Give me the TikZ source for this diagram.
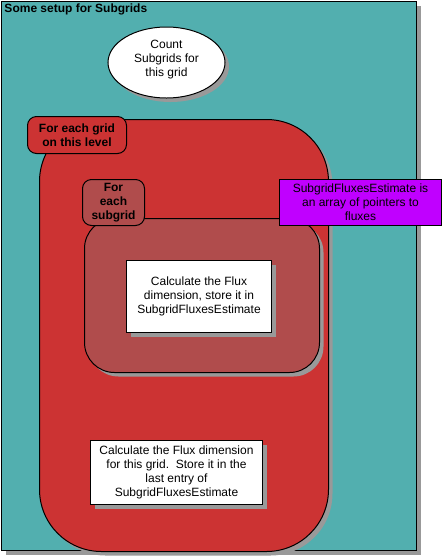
\documentclass[tikz,border=0pt]{standalone}
\usepackage{fontspec}
\setmainfont{Liberation Sans}
\usetikzlibrary{shadows,shapes.geometric}
\definecolor{tealbg}{RGB}{82,175,175}
\definecolor{loopred}{RGB}{204,51,51}
\definecolor{subred}{RGB}{176,76,76}
\definecolor{notepurple}{RGB}{192,0,255}
\definecolor{shadowgray}{RGB}{153,153,153}
\begin{document}
\begin{tikzpicture}[x=1pt,y=-1pt,
  every node/.style={font=\fontsize{12}{14}\selectfont, align=center, inner sep=0pt, line width=1pt},
  shade4/.style={drop shadow={shadow xshift=4pt, shadow yshift=-4pt, fill=shadowgray, opacity=1}},
  panel/.style={draw=black, rectangle, anchor=north west},
  looplabel/.style={panel, rounded corners=9pt, font=\fontsize{12}{14}\selectfont\bfseries},
  textbox/.style={panel, fill=white, shade4}
]
\useasboundingbox (0,0) rectangle (443,558);

% outer setup frame and its title
\node[panel, fill=tealbg, shade4, minimum width=415, minimum height=549] (setup) at (1,1) {};
\node[anchor=north west, font=\fontsize{12}{14}\selectfont\bfseries] (title) at (4,3) {Some setup for Subgrids};

% counting step
\node[ellipse, draw=black, fill=white, shade4, minimum width=117, minimum height=71] (count) at (166.5,62.5) {};
\node (counttext) at (166.5,60) {Count\\Subgrids for\\this grid};

% loop over grids on this level
\node[panel, fill=loopred, shade4, rounded corners=62pt, minimum width=289, minimum height=432] (gridloop) at (39,119) {};
\node[looplabel, fill=loopred, minimum width=99, minimum height=37] (gridlabel) at (27,116) {For each grid\\on this level};

% loop over subgrids
\node[panel, fill=subred, shade4, rounded corners=30pt, minimum width=235, minimum height=154] (subloop) at (84,218) {};
\node[looplabel, fill=subred, minimum width=62, minimum height=46] (sublabel) at (82,179) {For\\each\\subgrid};

% note on the array
\node[panel, fill=notepurple, minimum width=162, minimum height=46] (note) at (279,179) {SubgridFluxesEstimate is\\an array of pointers to\\fluxes};

% work steps
\node[textbox, minimum width=145, minimum height=72] (subcalc) at (126,260) {Calculate the Flux\\dimension, store it in\\SubgridFluxesEstimate};
\node[textbox, minimum width=172, minimum height=64] (gridcalc) at (90,440) {Calculate the Flux dimension\\for this grid.\ \ Store it in the\\last entry of\\SubgridFluxesEstimate};
\end{tikzpicture}
\end{document}
